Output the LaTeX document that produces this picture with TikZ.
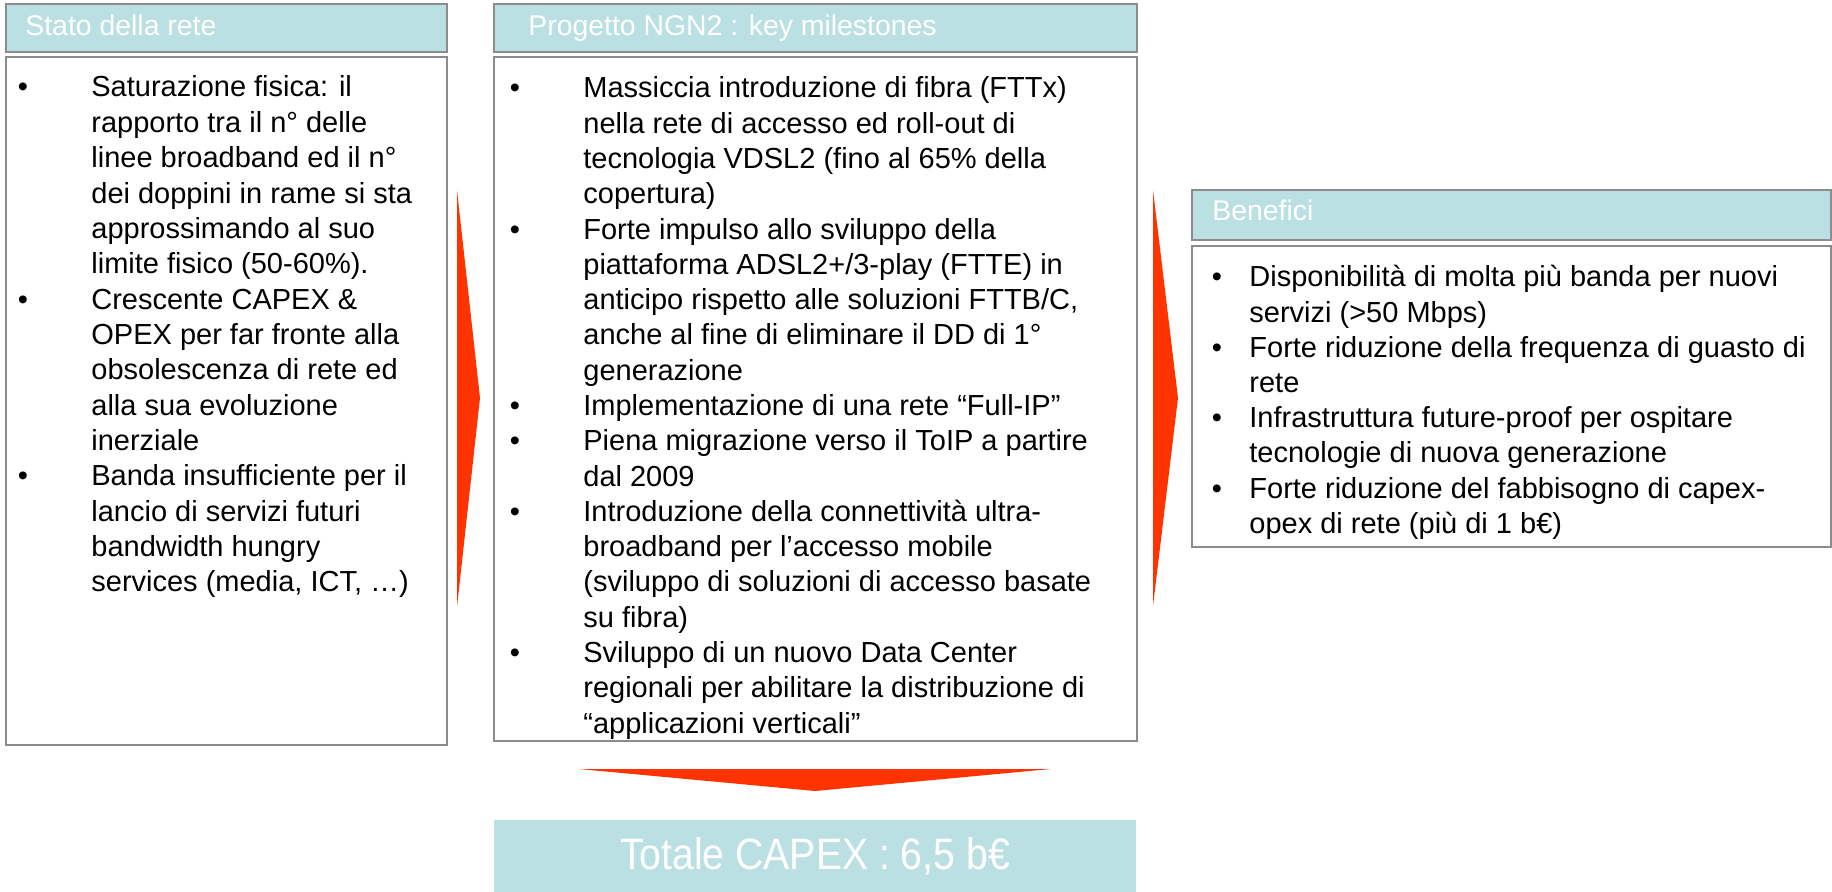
\documentclass[tikz,border=0pt]{standalone}
\usepackage{fontspec}
\setmainfont{Liberation Sans}
\newfontfamily\narrowfont[FakeStretch=0.89]{Liberation Sans}
\usetikzlibrary{fit}
\definecolor{hdrfill}{RGB}{187,224,227}
\definecolor{edge}{RGB}{140,140,140}
\definecolor{arrowred}{RGB}{255,51,0}
\tikzset{
  hdrbox/.style={draw=edge, line width=1pt, fill=hdrfill, inner sep=0pt},
  bodybox/.style={draw=edge, line width=1pt, fill=white, inner sep=0pt},
  totbox/.style={fill=hdrfill, inner sep=0pt},
  hdrtxt/.style={anchor=base west, inner sep=0pt, text=white, font=\fontsize{14.2}{17}\selectfont},
  tottxt/.style={anchor=base, inner sep=0pt, text=white, font=\narrowfont\fontsize{22}{26}\selectfont},
  bodytxt/.style={anchor=base west, inner sep=0pt, font=\fontsize{14.5}{17.6}\selectfont},
  bul/.style={anchor=base, inner sep=0pt, font=\fontsize{14.5}{17.6}\selectfont},
  bigarrow/.style={fill=arrowred},
}
\begin{document}
\begin{tikzpicture}[x=0.5pt,y=-0.5pt]
\useasboundingbox[fill=white] (0,0) rectangle (1832,892);

% --- boxes ---
\node[hdrbox, fit={(6,4) (447,52)}] (h1) {};
\node[bodybox, fit={(6,57) (447,745)}] (b1) {};
\node[hdrbox, fit={(494,4) (1137,52)}] (h2) {};
\node[bodybox, fit={(494,57) (1137,741)}] (b2) {};
\node[hdrbox, fit={(1192,190) (1831,240)}] (h3) {};
\node[bodybox, fit={(1192,246) (1831,547)}] (b3) {};
\node[totbox, fit={(494,820) (1136,892)}] (tot) {};

% --- header texts ---
\node[hdrtxt] (t1) at (25,36) {Stato della rete};
\node[hdrtxt] (t2) at (528,36) {Progetto NGN2 : key milestones};
\node[hdrtxt] (t3) at (1212,221) {Benefici};
\node[tottxt] (t4) at (815,869) {Totale CAPEX : 6,5 b€};

% --- arrows ---
\fill[bigarrow] (457,190) -- (480,398) -- (457,607) -- cycle;
\fill[bigarrow] (1153,190) -- (1178,398) -- (1153,606) -- cycle;
\fill[bigarrow] (579,769) -- (1051,769) -- (815,791) -- cycle;

% --- left box text ---
\foreach \t [count=\i] in {
  {Saturazione fisica: il},
  {rapporto tra il n° delle},
  {linee broadband ed il n°},
  {dei doppini in rame si sta},
  {approssimando al suo},
  {limite fisico (50-60\%).},
  {Crescente CAPEX \&},
  {OPEX per far fronte alla},
  {obsolescenza di rete ed},
  {alla sua evoluzione},
  {inerziale},
  {Banda insufficiente per il},
  {lancio di servizi futuri},
  {bandwidth hungry},
  {services (media, ICT, …)}}
  \node[bodytxt] (L\i) at (91,{97+35.35*(\i-1)}) {\t};
\foreach \i in {1,7,12}
  \node[bul] (LB\i) at (23,{97+35.35*(\i-1)}) {•};

% --- middle box text ---
\foreach \t [count=\i] in {
  {Massiccia introduzione di fibra (FTTx)},
  {nella rete di accesso ed roll-out di},
  {tecnologia VDSL2 (fino al 65\% della},
  {copertura)},
  {Forte impulso allo sviluppo della},
  {piattaforma ADSL2+/3-play (FTTE) in},
  {anticipo rispetto alle soluzioni FTTB/C,},
  {anche al fine di eliminare il DD di 1°},
  {generazione},
  {Implementazione di una rete “Full-IP”},
  {Piena migrazione verso il ToIP a partire},
  {dal 2009},
  {Introduzione della connettività ultra-},
  {broadband per l’accesso mobile},
  {\relax(sviluppo di soluzioni di accesso basate},
  {su fibra)},
  {Sviluppo di un nuovo Data Center},
  {regionali per abilitare la distribuzione di},
  {“applicazioni verticali”}}
  \node[bodytxt] (M\i) at (583,{98+35.28*(\i-1)}) {\t};
\foreach \i in {1,5,10,11,13,17}
  \node[bul] (MB\i) at (515,{98+35.28*(\i-1)}) {•};

% --- right box text ---
\foreach \t [count=\i] in {
  {Disponibilità di molta più banda per nuovi},
  {servizi (>50 Mbps)},
  {Forte riduzione della frequenza di guasto di},
  {rete},
  {Infrastruttura future-proof per ospitare},
  {tecnologie di nuova generazione},
  {Forte riduzione del fabbisogno di capex-},
  {opex di rete (più di 1 b€)}}
  \node[bodytxt] (R\i) at (1249,{287+35.2*(\i-1)}) {\t};
\foreach \i in {1,3,5,7}
  \node[bul] (RB\i) at (1217,{287+35.2*(\i-1)}) {•};
\end{tikzpicture}
\end{document}
